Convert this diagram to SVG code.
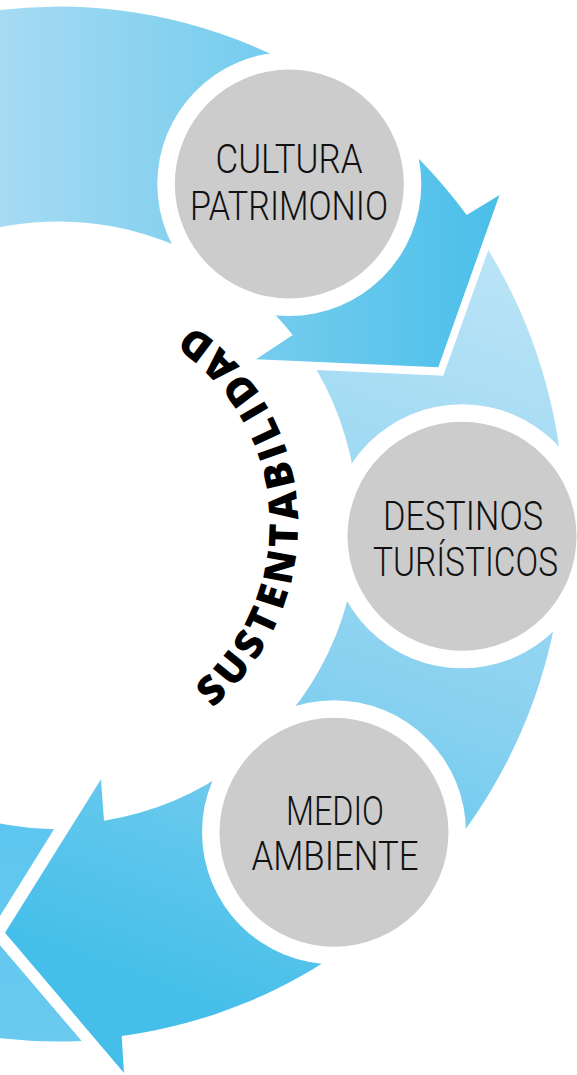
<svg xmlns="http://www.w3.org/2000/svg" width="577" height="1075" viewBox="0 0 577 1075">
  <defs>
    <linearGradient id="gSeg1" gradientUnits="userSpaceOnUse" x1="0" y1="0" x2="500" y2="0">
      <stop offset="0" stop-color="#a6dbf3"/>
      <stop offset="1" stop-color="#4abfe9"/>
    </linearGradient>
    <linearGradient id="gSeg2" gradientUnits="userSpaceOnUse" x1="470" y1="260" x2="200" y2="1000">
      <stop offset="0" stop-color="#b9e3f6"/>
      <stop offset="0.55" stop-color="#88d1f0"/>
      <stop offset="1" stop-color="#45bfe9"/>
    </linearGradient>
    <linearGradient id="gSeg3" gradientUnits="userSpaceOnUse" x1="0" y1="820" x2="0" y2="1045">
      <stop offset="0" stop-color="#5dc6ee"/>
      <stop offset="1" stop-color="#6acaef"/>
    </linearGradient>
    <path id="arcText" d="M 172.9 734.7 A 240 240 0 0 0 145.6 300.5"/>
  </defs>
  <style>
    .halo { fill: #ffffff; }
    .disc { fill: #cccccc; }
    .lbl { font-family: Roboto, "Liberation Sans", sans-serif; font-weight: 300; font-size: 41px; fill: #111111; text-anchor: middle; }
    .arc { font-family: "Open Sans", "Liberation Sans", sans-serif; font-weight: 800; font-size: 40px; fill: #000000; letter-spacing: 5px; }
  </style>
  <rect width="577" height="1075" fill="#ffffff"/>

  <g id="connectors">
    <path id="arrow-1" fill="url(#gSeg1)" d="M -421.2 346.8 A 510 518 0 0 1 466.7 215 L 499.5 195 L 438.3 367.3 L 256 359.3 L 292.7 335 A 300 302 0 0 0 -223.9 420.7 Z"/>
    <path id="arrow-2" fill="url(#gSeg2)" d="M 316.7 370 L 443.3 375.7 L 488.3 250 A 510 518 0 0 1 121.7 1036 L 124 1073 L 5 932.7 L 101 779.3 L 104 820.7 A 300 302 0 0 0 316.7 370 Z"/>
    <path id="arrow-3" fill="url(#gSeg3)" d="M 54 829.3 L -10.5 933 L 81.7 1041 A 510 518 0 0 1 -421.2 701.2 L -223.9 627.3 A 300 302 0 0 0 54 829.3 Z"/>
  </g>

  <g id="node-cultura">
    <circle class="halo" cx="289.3" cy="184" r="132"/>
    <circle class="disc" cx="289.3" cy="184" r="114.5"/>
    <text class="lbl" x="289" y="173.3" textLength="147" lengthAdjust="spacingAndGlyphs">CULTURA</text>
    <text class="lbl" x="289" y="220" textLength="198" lengthAdjust="spacingAndGlyphs">PATRIMONIO</text>
  </g>

  <g id="node-destinos">
    <circle class="halo" cx="462" cy="536.2" r="132"/>
    <circle class="disc" cx="462" cy="536.2" r="114.5"/>
    <text class="lbl" x="463" y="530" textLength="160" lengthAdjust="spacingAndGlyphs">DESTINOS</text>
    <text class="lbl" x="465.5" y="576" textLength="185" lengthAdjust="spacingAndGlyphs">TURÍSTICOS</text>
  </g>

  <g id="node-medio">
    <circle class="halo" cx="334" cy="832.3" r="132"/>
    <circle class="disc" cx="334" cy="832.3" r="114.5"/>
    <text class="lbl" x="335" y="825" textLength="98" lengthAdjust="spacingAndGlyphs">MEDIO</text>
    <text class="lbl" x="335" y="870" textLength="167" lengthAdjust="spacingAndGlyphs">AMBIENTE</text>
  </g>

  <g id="label-sustentabilidad">
    <text class="arc"><textPath href="#arcText" startOffset="50%" text-anchor="middle">SUSTENTABILIDAD</textPath></text>
  </g>
</svg>
